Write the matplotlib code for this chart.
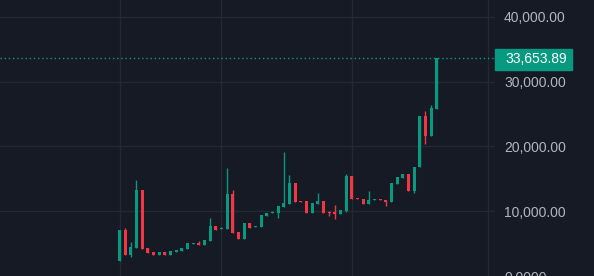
import numpy as np
import matplotlib.pyplot as plt
from matplotlib.patches import Rectangle

opens = [2300, 7080, 3230, 4310, 13230, 4310, 3690, 3230, 3690, 3230,
         3690, 3850, 4150, 4920, 5080, 4770, 5380, 7690, 7230, 7230,
         12620, 6770, 5690, 8150, 7540, 7540, 9230, 9690, 9690, 10620,
         11080, 14310, 11540, 11540, 9690, 11080, 11540, 9850, 9850, 9540,
         10000, 15380, 12000, 11850, 11080, 11690, 11850, 11690, 11380, 14150,
         15080, 15690, 13080, 16770, 24770, 21690, 25850]
highs = [7080, 7385, 5230, 14770, 13230, 4310, 3690, 3690, 3690, 3850,
         4000, 4310, 5080, 5080, 5380, 5540, 8920, 7690, 7540, 16620,
         13230, 6770, 8150, 8150, 7690, 9380, 9690, 10000, 10770, 19080,
         15540, 14310, 11540, 11540, 11230, 12770, 11540, 10000, 10920, 10150,
         15690, 15380, 12000, 11850, 13080, 11850, 11850, 11690, 14310, 15230,
         15690, 15690, 16770, 24770, 25540, 26460, 33653.89]
lows = [2300, 3230, 2920, 4310, 4150, 3540, 3230, 3230, 3230, 3230,
        3690, 3850, 4150, 4920, 4770, 4770, 5380, 7080, 7230, 7230,
        6620, 5690, 5690, 7385, 7540, 7540, 9230, 9690, 8920, 10620,
        11080, 11380, 11380, 9690, 9690, 11080, 9690, 9230, 8770, 9540,
        9850, 11850, 11850, 11080, 11080, 11690, 11690, 10770, 11380, 14150,
        15080, 13080, 12770, 16770, 20310, 21690, 25850]
closes = [7080, 3230, 4460, 13230, 4150, 3540, 3230, 3690, 3230, 3850,
          4000, 4310, 5080, 5080, 4770, 5540, 7690, 7080, 7385, 12620,
          6620, 5690, 8150, 7385, 7690, 9380, 9690, 9850, 10770, 11230,
          14310, 11380, 11380, 9690, 11230, 11540, 9690, 9690, 9540, 10150,
          15380, 11850, 11850, 11080, 11690, 11850, 11690, 11380, 14310, 15230,
          15690, 13080, 16770, 24770, 21690, 26000, 33653.89]
price_ticks = [10000, 20000, 30000, 40000]
price_labels = ['10,000.00', '20,000.00', '30,000.00', '40,000.00']
time_grid = [0, 18, 41, 65]
last_price = 33653.89

bg = '#161a25'
grid_c = '#242833'
up = '#089981'
down = '#f23645'

fig = plt.figure(figsize=(5.94, 2.76), dpi=100, facecolor=bg)
ax = fig.add_axes([0, 0, 495/594, 1])
ax.set_facecolor(bg)

x = np.arange(len(opens))
o = np.array(opens); h = np.array(highs); l = np.array(lows); c = np.array(closes)
cols = [up if cc >= oo else down for oo, cc in zip(o, c)]

ax.vlines(x, l, h, colors=cols, linewidth=1)
body = np.maximum(np.abs(c - o), 160)
ax.bar(x, body, bottom=np.minimum(o, c), width=0.53, color=cols, linewidth=0)

ax.set_xlim(-21.1, 66.3)
ax.set_ylim(154, 42615)

for t in price_ticks:
    ax.axhline(t, color=grid_c, linewidth=1, zorder=0)
for t in time_grid:
    ax.axvline(t, color=grid_c, linewidth=1, zorder=0)

ax.axhline(last_price, color=up, linewidth=1, linestyle=(0, (1, 2)))

for s in ax.spines.values():
    s.set_visible(False)
ax.set_xticks([])
ax.yaxis.tick_right()
ax.set_yticks(price_ticks + [0])
ax.set_yticklabels(price_labels + ['0.0000'], fontfamily='Liberation Sans',
                   fontsize=10, color='#b2b5be')
ax.tick_params(axis='y', length=0, pad=6.5)

# last price label
y_frac = (277 - 59.5) / 276
fig.patches.append(Rectangle((495/594, (276 - 70)/276), 77/594, 21/276,
                             transform=fig.transFigure, color=up, zorder=5))
fig.text(505/594, y_frac, '33,653.89', color='white', fontsize=10,
         fontfamily='Liberation Sans', va='center', ha='left', zorder=6)

fig.text(2/594, 1 + 3/276, 'K', color=up, fontsize=9,
         fontfamily='Liberation Sans', va='center', ha='left')

fig.savefig('out.png', dpi=100, facecolor=bg)
